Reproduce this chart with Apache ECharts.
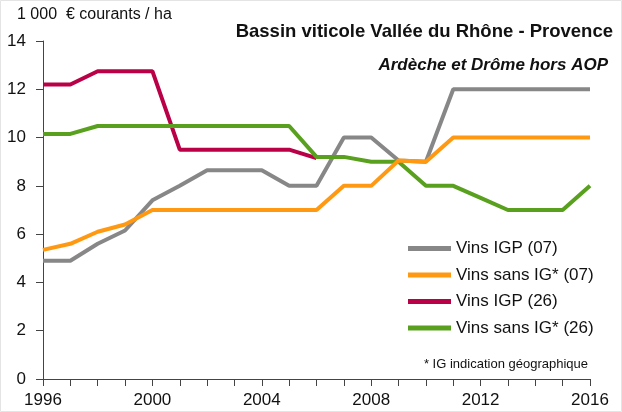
<!DOCTYPE html>
<html>
<head>
<meta charset="utf-8">
<script src="https://cdn.jsdelivr.net/npm/echarts@6/dist/echarts.min.js"></script>
<style>
  html, body { margin: 0; padding: 0; background: #fff; }
  #chart { width: 622px; height: 412px; }
</style>
</head>
<body>
<div id="chart"></div>
<script>
// années
var years = ['1996','1997','1998','1999','2000','2001','2002','2003','2004','2005','2006',
             '2007','2008','2009','2010','2011','2012','2013','2014','2015','2016'];

// 1 000 € courants / ha
var igp07 = [4.9, 4.9, 5.6, 6.15, 7.4, 8.0, 8.65, 8.65, 8.65, 8.0, 8.0,
             10.0, 10.0, 9.05, 9.0, 12.0, 12.0, 12.0, 12.0, 12.0, 12.0];
var sansIg07 = [5.35, 5.6, 6.1, 6.4, 7.0, 7.0, 7.0, 7.0, 7.0, 7.0, 7.0,
                8.0, 8.0, 9.05, 9.0, 10.0, 10.0, 10.0, 10.0, 10.0, 10.0];
var igp26 = [12.2, 12.2, 12.75, 12.75, 12.75, 9.5, 9.5, 9.5, 9.5, 9.5, 9.15,
             null, null, null, null, null, null, null, null, null, null];
var sansIg26 = [10.15, 10.15, 10.48, 10.48, 10.48, 10.48, 10.48, 10.48, 10.48, 10.48, 9.2,
                9.2, 9.0, 9.0, 8.0, 8.0, 7.5, 7.0, 7.0, 7.0, 8.0];

var seriesNames = ['Vins IGP (07)', 'Vins sans IG* (07)', 'Vins IGP (26)', 'Vins sans IG* (26)'];
var colors = ['#878787', '#ff9912', '#ba0047', '#58a01e'];

var chart = echarts.init(document.getElementById('chart'));

function ligne(nom, data, couleur) {
    return {
        name: nom,
        type: 'line',
        data: data,
        symbol: 'none',
        lineStyle: { width: 4, color: couleur },
        itemStyle: { color: couleur }
    };
}

var option = {
    backgroundColor: '#fff',
    textStyle: { fontFamily: 'Liberation Sans' },
    animation: false,
    graphic: [
        {
            type: 'rect',
            shape: { x: 0.5, y: 0.5, width: 621, height: 411 },
            style: { fill: 'none', stroke: '#e4e4e4', lineWidth: 1 }
        },
        {
            type: 'text', left: 17, top: 7,
            style: { text: '1 000  € courants / ha', fontSize: 16, fill: '#111', fontFamily: 'Liberation Sans' }
        },
        {
            type: 'text', right: 9, top: 22,
            style: { text: 'Bassin viticole Vallée du Rhône - Provence', fontSize: 18.5, fontWeight: 'bold', fill: '#111', fontFamily: 'Liberation Sans' }
        },
        {
            type: 'text', right: 14, top: 57,
            style: { text: 'Ardèche et Drôme hors AOP', fontSize: 17, fontWeight: 'bold', fontStyle: 'italic', fill: '#111', fontFamily: 'Liberation Sans' }
        },
        {
            type: 'text', right: 34, top: 358,
            style: { text: '* IG indication géographique', fontSize: 13, fill: '#111', fontFamily: 'Liberation Sans' }
        }
    ],
    legend: {
        data: seriesNames,
        orient: 'vertical',
        left: 403,
        top: 235,
        icon: 'rect',
        itemWidth: 43,
        itemHeight: 5,
        itemGap: 9.5,
        textStyle: { fontSize: 17, color: '#111' }
    },
    grid: { left: 43, right: 32, top: 41, bottom: 33, containLabel: false },
    xAxis: {
        type: 'category',
        data: years,
        boundaryGap: false,
        axisLine: { lineStyle: { color: '#444', width: 1 } },
        axisTick: { interval: 0, length: 7, lineStyle: { color: '#444' } },
        axisLabel: { interval: 3, fontSize: 17, color: '#111', margin: 13 },
        splitLine: { show: false }
    },
    yAxis: {
        type: 'value',
        min: 0,
        max: 14,
        interval: 2,
        axisLine: { show: true, lineStyle: { color: '#444', width: 1 } },
        axisTick: { show: true, length: 7, lineStyle: { color: '#444' } },
        axisLabel: { fontSize: 17, color: '#111', margin: 17 },
        splitLine: { show: false }
    },
    series: [
        ligne(seriesNames[2], igp26, colors[2]),
        ligne(seriesNames[0], igp07, colors[0]),
        ligne(seriesNames[3], sansIg26, colors[3]),
        ligne(seriesNames[1], sansIg07, colors[1])
    ]
};

chart.setOption(option);
</script>
</body>
</html>
